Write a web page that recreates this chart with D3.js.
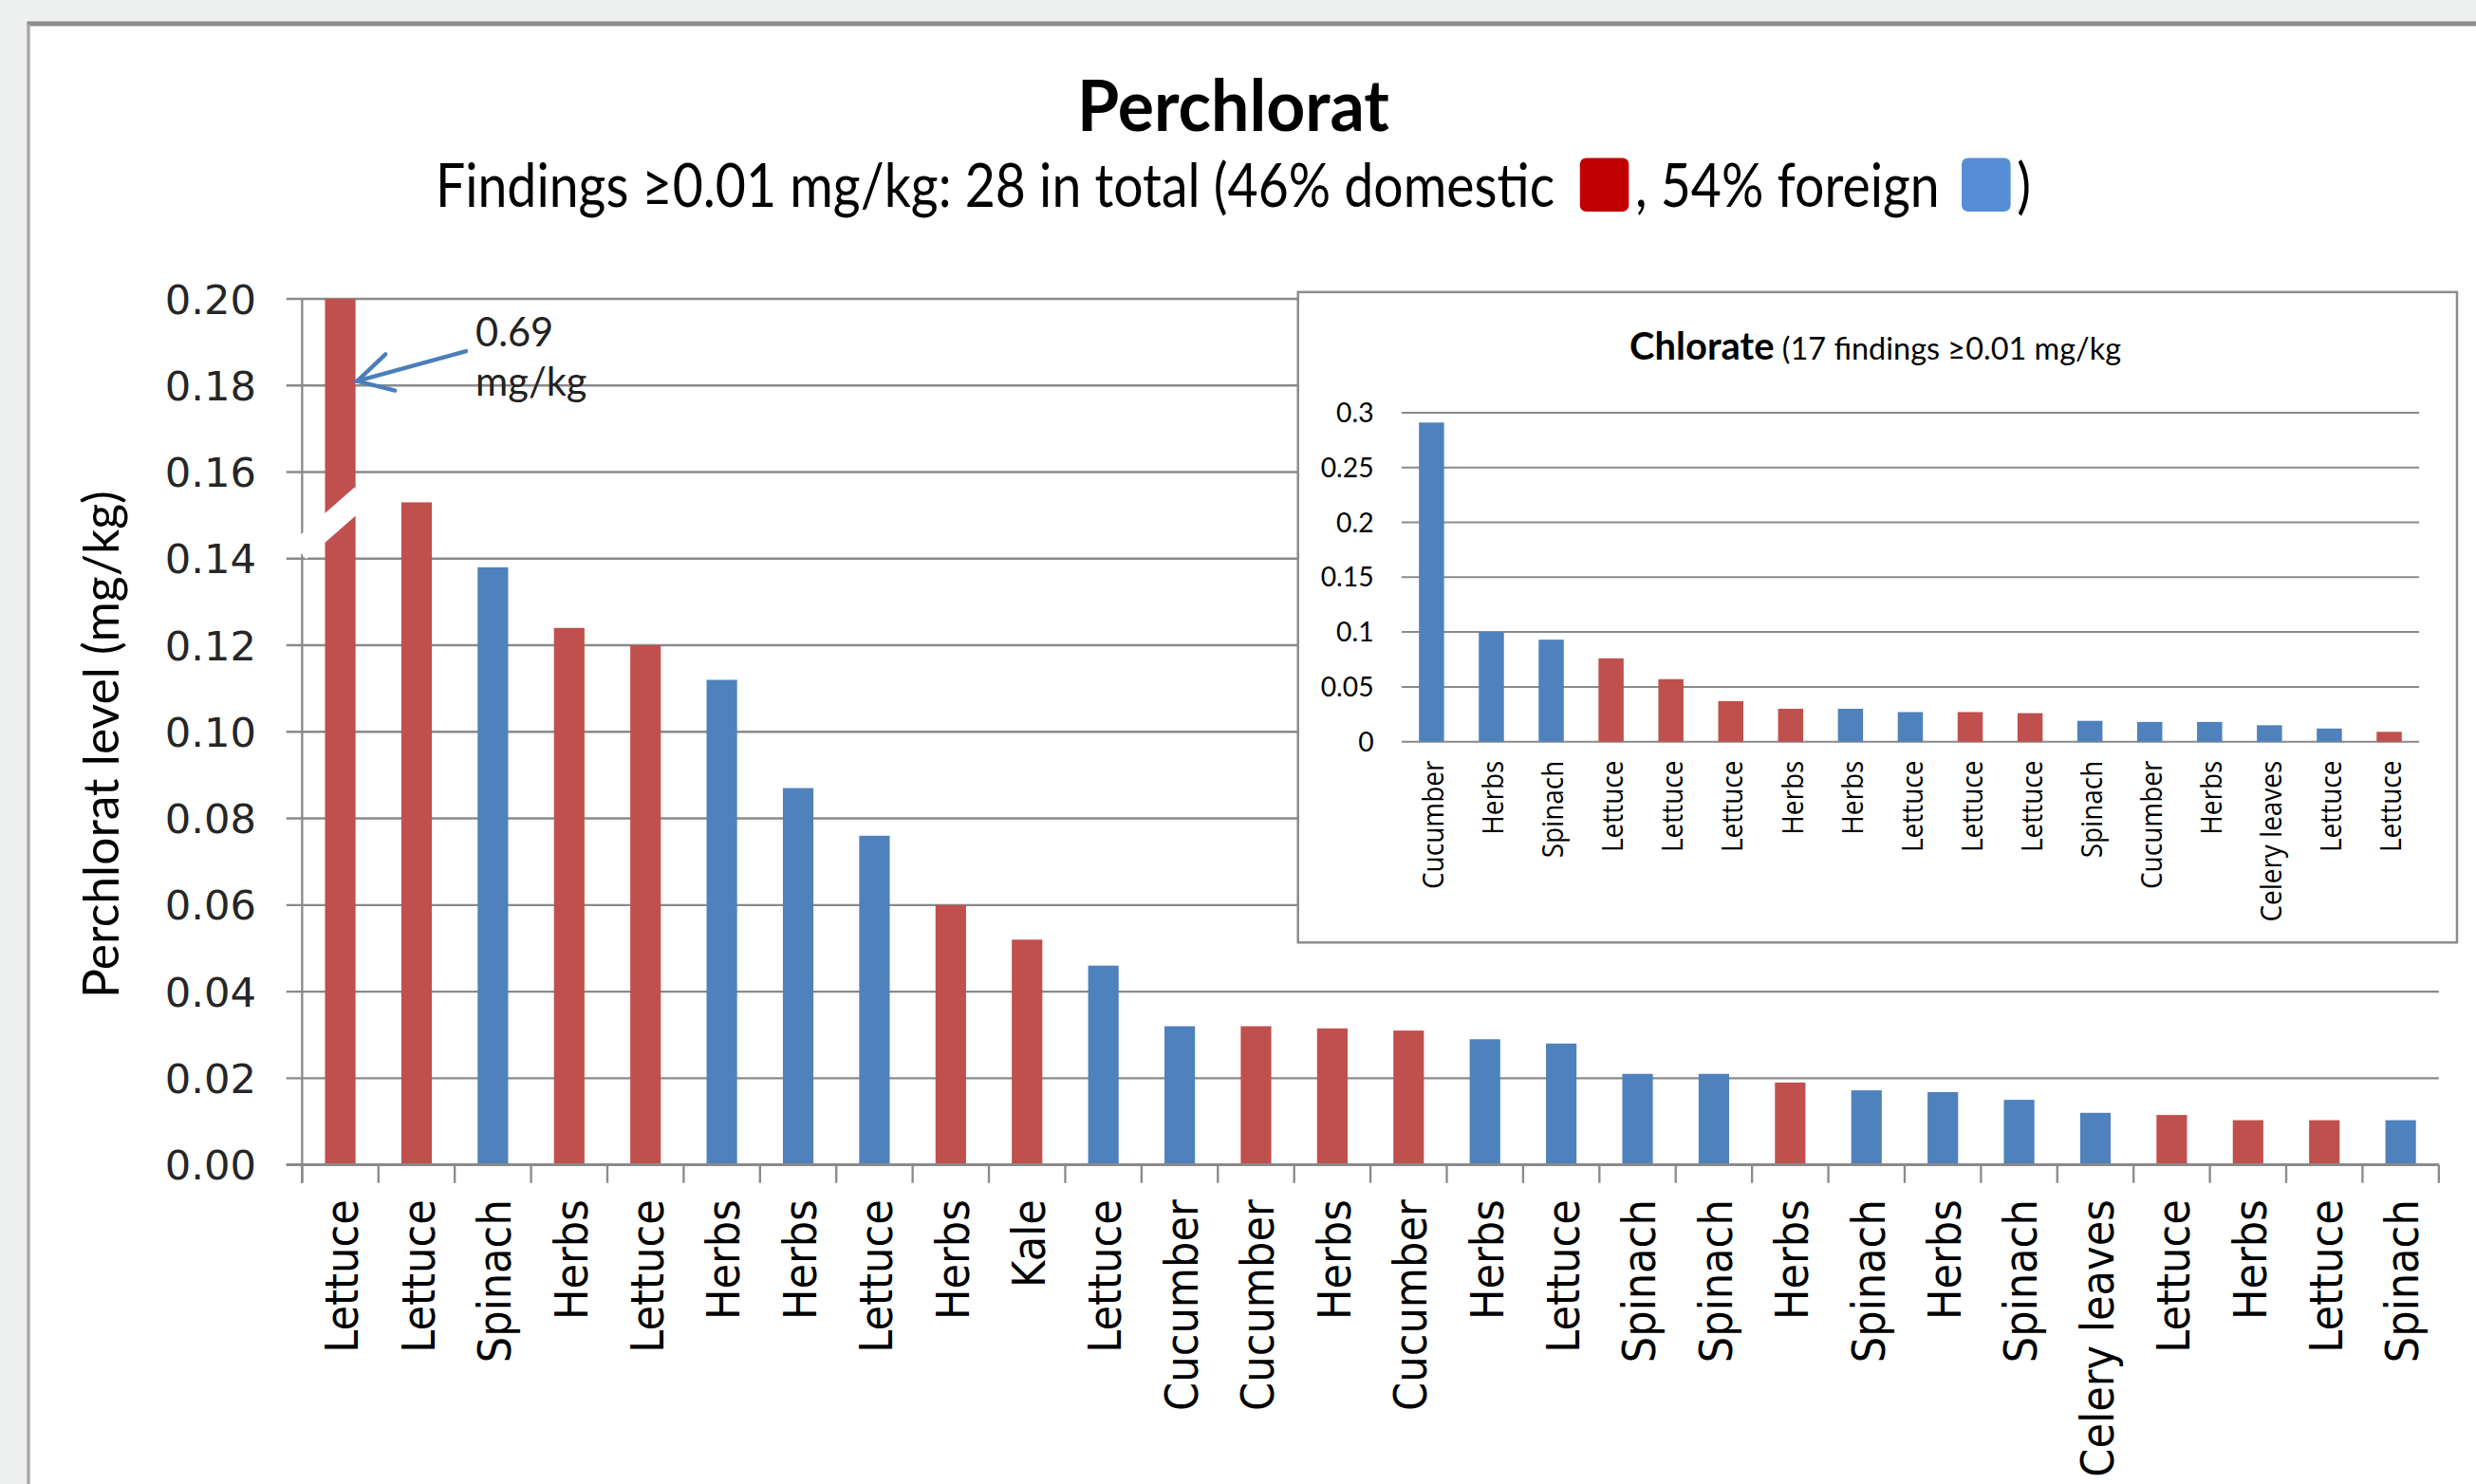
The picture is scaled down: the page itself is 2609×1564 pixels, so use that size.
<!DOCTYPE html>
<html>
<head>
<meta charset="utf-8">
<script src="https://cdn.jsdelivr.net/npm/d3@7"></script>
<style>
  html, body { margin: 0; padding: 0; background: #eef0ef; overflow: hidden; }
  svg { display: block; }
</style>
</head>
<body>
<script>
// perchlorat findings (main chart)
var perchCats = ["Lettuce", "Lettuce", "Spinach", "Herbs", "Lettuce", "Herbs", "Herbs", "Lettuce",
  "Herbs", "Kale", "Lettuce", "Cucumber", "Cucumber", "Herbs", "Cucumber", "Herbs", "Lettuce",
  "Spinach", "Spinach", "Herbs", "Spinach", "Herbs", "Spinach", "Celery leaves", "Lettuce",
  "Herbs", "Lettuce", "Spinach"];
var perchVals = [0.69, 0.153, 0.138, 0.124, 0.120, 0.112, 0.087, 0.076, 0.060, 0.052, 0.046,
  0.032, 0.032, 0.0315, 0.031, 0.029, 0.028, 0.021, 0.021, 0.019, 0.0172, 0.0168, 0.015,
  0.012, 0.0115, 0.0103, 0.0103, 0.0103];
var perchOrigin = ["d", "d", "f", "d", "d", "f", "f", "f", "d", "d", "f", "f", "d", "d", "d",
  "f", "f", "f", "f", "d", "f", "f", "f", "f", "d", "d", "d", "f"];
var perchTicks = [0, 0.02, 0.04, 0.06, 0.08, 0.10, 0.12, 0.14, 0.16, 0.18, 0.20];

// chlorate findings (inset)
var chlorCats = ["Cucumber", "Herbs", "Spinach", "Lettuce", "Lettuce", "Lettuce", "Herbs", "Herbs",
  "Lettuce", "Lettuce", "Lettuce", "Spinach", "Cucumber", "Herbs", "Celery leaves", "Lettuce", "Lettuce"];
var chlorVals = [0.291, 0.1, 0.093, 0.076, 0.057, 0.037, 0.030, 0.030, 0.027, 0.027, 0.026,
  0.019, 0.018, 0.018, 0.015, 0.012, 0.009];
var chlorOrigin = ["f", "f", "f", "d", "d", "d", "d", "f", "f", "d", "d", "f", "f", "f", "f", "f", "d"];
var chlorTicks = [0, 0.05, 0.1, 0.15, 0.2, 0.25, 0.3];

var barColor = {d: "#c0504d", f: "#4f81bd"};
var gridColor = "#8a8a8a";

var svg = d3.select("body").append("svg")
    .attr("width", 2609)
    .attr("height", 1564)
    .attr("viewBox", "0 0 1568 940");

// page + chart panel
svg.append("rect").attr("width", 1568).attr("height", 940).attr("fill", "#eef0ef");
svg.append("rect").attr("x", 18).attr("y", 15).attr("width", 1560).attr("height", 940).attr("fill", "#fff");
svg.append("line").attr("x1", 17).attr("x2", 1568).attr("y1", 15).attr("y2", 15)
    .attr("stroke", "#8c8c8c").attr("stroke-width", 3);
svg.append("line").attr("x1", 18).attr("x2", 18).attr("y1", 15).attr("y2", 940)
    .attr("stroke", "#a5a5a5").attr("stroke-width", 2);

// titles
svg.append("text")
    .attr("transform", "translate(781,83) scale(1,1.05)")
    .attr("text-anchor", "middle")
    .style("font-family", "Lato").style("font-weight", "bold").style("font-size", "43px")
    .text("Perchlorat");

var sub = svg.append("g").attr("class", "subtitle");
var subParts = [
  {type: "text", t: "Findings \u22650.01 mg/kg: 28 in total (46% domestic"},
  {type: "box", c: "#c00000", gap: 16},
  {type: "text", t: ", 54% foreign"},
  {type: "box", c: "#558ed5", gap: 14},
  {type: "text", t: ")"}
];
var cx = 0;
subParts.forEach(function(p) {
  if (p.type == "text") {
    var tx = sub.append("text").attr("x", cx).attr("y", 0)
        .attr("transform", "translate(0,131) scale(1,1.15)")
        .style("font-family", "Lato").style("font-size", "33.3px").text(p.t);
    cx += tx.node().getComputedTextLength();
  } else {
    cx += p.gap;
    sub.append("rect").attr("x", cx).attr("y", 100).attr("width", 31).attr("height", 34)
        .attr("rx", 4).attr("fill", p.c);
    cx += 35;
  }
});
sub.attr("transform", "translate(" + (781 - cx / 2) + ",0)");

// main chart
var plot = {left: 191.3, right: 1544.5, top: 189.3, bottom: 737.8};

var x = d3.scaleBand()
    .domain(d3.range(perchCats.length))
    .range([plot.left, plot.right])
    .paddingInner(0.6)
    .paddingOuter(0.3);

var y = d3.scaleLinear()
    .domain([0, 0.2])
    .range([plot.bottom, plot.top])
    .clamp(true);

var main = svg.append("g").attr("class", "main");

main.selectAll(".grid")
    .data(perchTicks)
  .enter().append("line")
    .attr("class", "grid")
    .attr("x1", plot.left - 10).attr("x2", plot.right)
    .attr("y1", function(d) { return y(d); }).attr("y2", function(d) { return y(d); })
    .attr("stroke", gridColor).attr("stroke-width", 1.4);

main.selectAll(".ylab")
    .data(perchTicks)
  .enter().append("text")
    .attr("class", "ylab")
    .attr("x", plot.left - 29)
    .attr("y", function(d) { return y(d); })
    .attr("dy", "0.36em")
    .attr("text-anchor", "end")
    .attr("fill", "#262626")
    .style("font-family", "DejaVu Sans").style("font-size", "26px")
    .text(d3.format(".2f"));

main.selectAll(".bar")
    .data(perchVals)
  .enter().append("rect")
    .attr("class", "bar")
    .attr("x", function(d, i) { return x(i); })
    .attr("width", x.bandwidth())
    .attr("y", function(d) { return y(d); })
    .attr("height", function(d) { return y(0) - y(d); })
    .attr("fill", function(d, i) { return barColor[perchOrigin[i]]; });

// category boundary ticks below the axis
main.selectAll(".xtick")
    .data(d3.range(perchCats.length + 1))
  .enter().append("line")
    .attr("class", "xtick")
    .attr("x1", function(i) { return plot.left + i * x.step(); })
    .attr("x2", function(i) { return plot.left + i * x.step(); })
    .attr("y1", y(0)).attr("y2", y(0) + 11.5)
    .attr("stroke", gridColor).attr("stroke-width", 1.4);

main.append("line")
    .attr("x1", plot.left).attr("x2", plot.left)
    .attr("y1", plot.top).attr("y2", y(0) + 11.5)
    .attr("stroke", gridColor).attr("stroke-width", 1.4);
main.append("line")
    .attr("x1", plot.left - 10).attr("x2", plot.right)
    .attr("y1", y(0)).attr("y2", y(0))
    .attr("stroke", gridColor).attr("stroke-width", 1.8);

main.selectAll(".xlab")
    .data(perchCats)
  .enter().append("text")
    .attr("class", "xlab")
    .attr("transform", function(d, i) {
      return "translate(" + (x(i) + x.bandwidth() / 2 + 1) + "," + (y(0) + 22) + ") rotate(-90) scale(1,1.1)";
    })
    .attr("dy", "0.36em")
    .attr("text-anchor", "end")
    .attr("fill", "#000")
    .style("font-family", "DejaVu Sans").style("font-size", "26px")
    .text(function(d) { return d; });

main.append("text")
    .attr("transform", "translate(75," + ((plot.top + plot.bottom) / 2 + 8) + ") rotate(-90)")
    .attr("text-anchor", "middle")
    .style("font-family", "Lato").style("font-size", "31px")
    .text("Perchlorat level (mg/kg)");

// axis break on the first (off-scale) bar
var breakY = y(0.148);
main.append("line")
    .attr("x1", plot.left - 2).attr("y1", breakY + 17)
    .attr("x2", x(0) + x.bandwidth() + 4).attr("y2", breakY - 18)
    .attr("stroke", "#fff").attr("stroke-width", 14);

// 0.69 annotation
var tipX = x(0) + x.bandwidth() + 1, tipY = y(0.181);
var arrow = main.append("g")
    .attr("fill", "none").attr("stroke", "#4a7ebb").attr("stroke-width", 2.6)
    .attr("stroke-linecap", "round");
arrow.append("line")
    .attr("x1", tipX).attr("y1", tipY).attr("x2", tipX + 69).attr("y2", tipY - 19);
arrow.append("polyline")
    .attr("points", [[tipX + 18, tipY - 17], [tipX, tipY], [tipX + 24, tipY + 6]].join(" "));
var note = main.append("text")
    .attr("x", tipX + 75).attr("y", tipY - 22)
    .attr("fill", "#222")
    .style("font-family", "Lato").style("font-size", "25px");
note.append("tspan").text("0.69");
note.append("tspan").attr("x", tipX + 75).attr("dy", 31).text("mg/kg");

// inset: chlorate
var inset = svg.append("g").attr("class", "inset");
inset.append("rect")
    .attr("x", 822).attr("y", 185).attr("width", 734).attr("height", 412)
    .attr("fill", "#fff").attr("stroke", "#8c8c8c").attr("stroke-width", 1.5);

var ititle = inset.append("text")
    .attr("x", 1032).attr("y", 228)
    .style("font-family", "Lato");
ititle.append("tspan").style("font-weight", "bold").style("font-size", "24px").text("Chlorate");
ititle.append("tspan").style("font-size", "19.5px").text(" (17 findings \u22650.01 mg/kg");

var ix = d3.scaleBand()
    .domain(d3.range(chlorCats.length))
    .range([887.6, 1532])
    .paddingInner(0.58)
    .paddingOuter(0.29);

var iy = d3.scaleLinear()
    .domain([0, 0.3])
    .range([469.8, 261.4]);

inset.selectAll(".grid")
    .data(chlorTicks)
  .enter().append("line")
    .attr("class", "grid")
    .attr("x1", 887.6).attr("x2", 1532)
    .attr("y1", function(d) { return iy(d); }).attr("y2", function(d) { return iy(d); })
    .attr("stroke", gridColor).attr("stroke-width", 1.2);

inset.selectAll(".ylab")
    .data(chlorTicks)
  .enter().append("text")
    .attr("class", "ylab")
    .attr("x", 870)
    .attr("y", function(d) { return iy(d); })
    .attr("dy", "0.36em")
    .attr("text-anchor", "end")
    .attr("fill", "#000")
    .style("font-family", "Lato").style("font-size", "17px")
    .text(function(d) { return String(d); });

inset.selectAll(".bar")
    .data(chlorVals)
  .enter().append("rect")
    .attr("class", "bar")
    .attr("x", function(d, i) { return ix(i); })
    .attr("width", ix.bandwidth())
    .attr("y", function(d) { return iy(d); })
    .attr("height", function(d) { return iy(0) - iy(d); })
    .attr("fill", function(d, i) { return barColor[chlorOrigin[i]]; });

inset.selectAll(".xlab")
    .data(chlorCats)
  .enter().append("text")
    .attr("class", "xlab")
    .attr("transform", function(d, i) {
      return "translate(" + (ix(i) + ix.bandwidth() / 2 + 1) + "," + (iy(0) + 12) + ") rotate(-90) scale(1,1.1)";
    })
    .attr("dy", "0.36em")
    .attr("text-anchor", "end")
    .attr("fill", "#000")
    .style("font-family", "Open Sans").style("font-size", "16.8px")
    .text(function(d) { return d; });
</script>
</body>
</html>
